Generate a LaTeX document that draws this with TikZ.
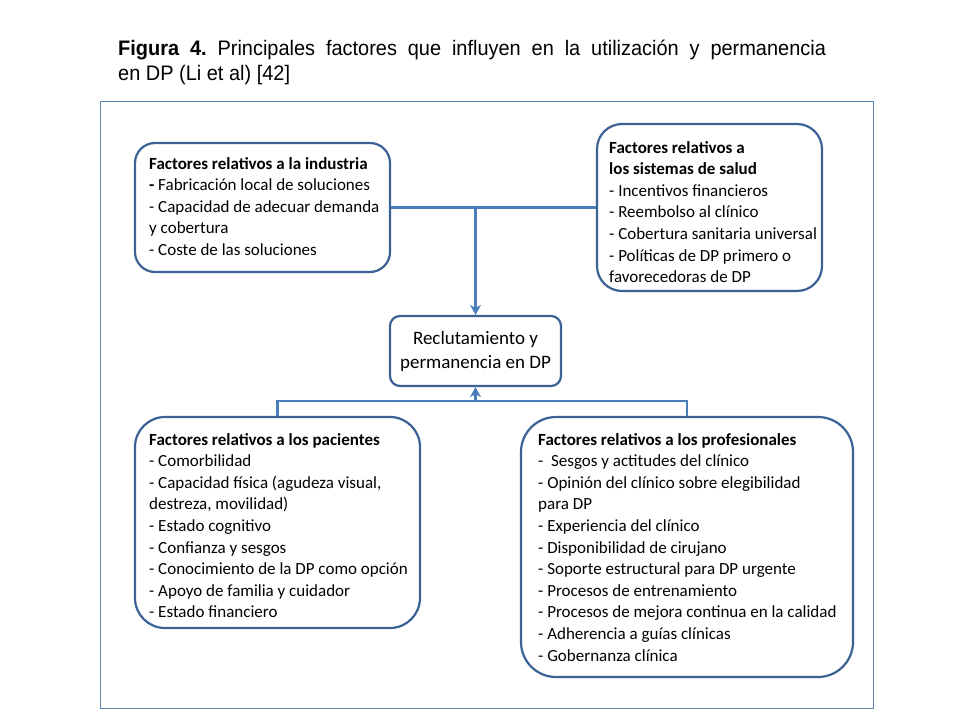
\documentclass[tikz,border=0pt]{standalone}
\usepackage{fontspec}
\usepackage{graphicx}
\setmainfont{Carlito}
\newfontfamily\arialf{Liberation Sans}
\usetikzlibrary{arrows.meta}
\definecolor{boxblue}{HTML}{3C6295}
\definecolor{lineblue}{HTML}{4A7EBB}
\definecolor{framec}{HTML}{5B84B1}
\frenchspacing
\begin{document}
\begin{tikzpicture}[x=1pt,y=-1pt,
  box/.style={draw=boxblue, line width=2.2pt, rectangle, inner sep=0pt},
  conn/.style={draw=lineblue, line width=2.2pt},
  arr/.style={conn, -{Stealth[length=10pt,width=11pt,inset=3pt]}},
  txt/.style={anchor=base west, inner sep=0pt, font=\fontsize{17}{21.6}\selectfont}]
\useasboundingbox[fill=white] (0,0) rectangle (960,720);
% frame
\draw[framec, line width=1pt] (100.5,101.5) rectangle (873,708);
% title
\node[anchor=base west, inner sep=0pt, font=\arialf\fontsize{21}{25}\selectfont] (title) at (118,55)
  {\scalebox{0.95}[1]{\parbox[t]{745pt}{\makebox[745pt][s]{\textbf{Figura 4.} Principales factores que influyen en la utilización y permanencia}\\en DP (Li et al) [42]}}};
% boxes
\node[box, rounded corners=20pt, minimum width=255pt, minimum height=129pt] (ind) at (262.5,207.5) {};
\node[box, rounded corners=25pt, minimum width=225pt, minimum height=167pt] (hs) at (709.5,207.5) {};
\node[box, rounded corners=10pt, minimum width=171pt, minimum height=70pt, align=center,
  font=\fontsize{19}{24}\selectfont] (dp) at (475.5,351) {Reclutamiento y\\permanencia en DP};
\node[box, rounded corners=30pt, minimum width=285pt, minimum height=211pt] (pat) at (277.5,522.5) {};
\node[box, rounded corners=35pt, minimum width=332pt, minimum height=260pt] (prof) at (687,547) {};
% texts
\node[txt] (indt) at (149,169) {\parbox[t]{240pt}{\textbf{Factores relativos a la industria}\\
\textbf{-} Fabricación local de soluciones\\
- Capacidad de adecuar demanda\\
y cobertura\\
- Coste de las soluciones}};
\node[txt] (hst) at (609,153) {\parbox[t]{210pt}{\textbf{Factores relativos a}\\
\textbf{los sistemas de salud}\\
- Incentivos financieros\\
- Reembolso al clínico\\
- Cobertura sanitaria universal\\
- Políticas de DP primero o\\
favorecedoras de DP}};
\node[txt] (patt) at (149,445) {\parbox[t]{270pt}{\textbf{Factores relativos a los pacientes}\\
- Comorbilidad\\
- Capacidad física (agudeza visual,\\
destreza, movilidad)\\
- Estado cognitivo\\
- Confianza y sesgos\\
- Conocimiento de la DP como opción\\
- Apoyo de familia y cuidador\\
- Estado financiero}};
\node[txt] (proft) at (538,445) {\parbox[t]{310pt}{\textbf{Factores relativos a los profesionales}\\
-\ \ Sesgos y actitudes del clínico\\
- Opinión del clínico sobre elegibilidad\\
para DP\\
- Experiencia del clínico\\
- Disponibilidad de cirujano\\
- Soporte estructural para DP urgente\\
- Procesos de entrenamiento\\
- Procesos de mejora continua en la calidad\\
- Adherencia a guías clínicas\\
- Gobernanza clínica}};
% connectors
\draw[conn] (ind.east) -- (hs.west);
\draw[arr] (dp.north |- ind.east) -- (dp.north);
\path (pat.north) ++(0,-15) coordinate (bl);
\draw[conn] (pat.north) -- (bl) -| (prof.north);
\draw[arr] (bl -| dp.south) -- (dp.south);
\end{tikzpicture}
\end{document}
